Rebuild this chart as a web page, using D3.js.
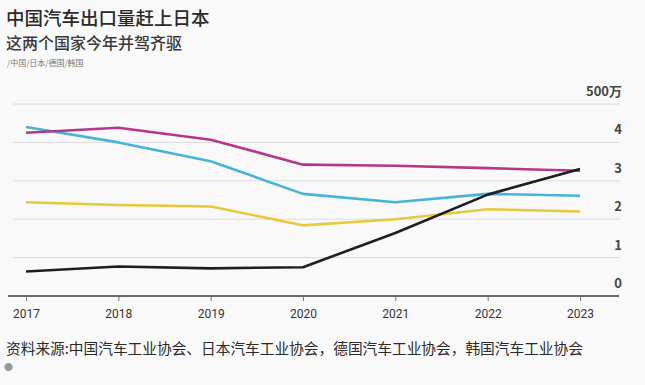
<!DOCTYPE html>
<html>
<head>
  <meta charset="utf-8">
  <title>中国汽车出口量赶上日本</title>
  <script src="https://cdn.jsdelivr.net/npm/d3@7/dist/d3.min.js"></script>
  <style>
    body { margin: 0; background: #f9f9f9; }
    text { font-family: "Noto Sans CJK SC", "Noto Sans", sans-serif; }
  </style>
</head>
<body>
<div id="container"></div>
<script>
  // years on the x axis
  var years = ["2017", "2018", "2019", "2020", "2021", "2022", "2023"];
  // exports, millions of vehicles
  var china   = [0.64, 0.77, 0.72, 0.75, 1.64, 2.64, 3.31];
  var japan   = [4.25, 4.38, 4.07, 3.42, 3.39, 3.33, 3.26];
  var germany = [4.40, 4.00, 3.51, 2.66, 2.44, 2.66, 2.61];
  var korea   = [2.44, 2.37, 2.33, 1.84, 2.00, 2.26, 2.20];
  var yTicks = [0, 1, 2, 3, 4, 5];
  var yTickLabels = ["0", "1", "2", "3", "4", "500万"];

  var series = [
    {name: "德国", values: germany, color: "#45b4d8"},
    {name: "韩国", values: korea,   color: "#e8c93c"},
    {name: "日本", values: japan,   color: "#b5378c"},
    {name: "中国", values: china,   color: "#1e1e1e"}
  ];

  var W = 645, H = 385;
  var svg = d3.select("#container").append("svg")
    .attr("width", W).attr("height", H);

  var x = d3.scalePoint().domain(years).range([26, 580]);
  var y = d3.scaleLinear().domain([0, 5]).range([296, 104]);

  // titles
  svg.append("text").attr("x", 6).attr("y", 25)
    .style("font-size", "18.5px").style("font-weight", "500").style("fill", "#2a2a2a")
    .text("中国汽车出口量赶上日本");
  svg.append("text").attr("x", 6).attr("y", 49)
    .style("font-size", "16px").style("font-weight", "500").style("fill", "#3a3a3a")
    .text("这两个国家今年并驾齐驱");
  svg.append("text").attr("x", 7).attr("y", 66)
    .style("font-size", "8px").style("fill", "#777")
    .text("/中国/日本/德国/韩国");

  // gridlines
  svg.append("g").selectAll("line")
    .data(yTicks.filter(function(d){ return d > 0; }))
    .enter().append("line")
    .attr("x1", 13).attr("x2", 620)
    .attr("y1", function(d){ return y(d); })
    .attr("y2", function(d){ return y(d); })
    .attr("stroke", "#dcdcdc").attr("stroke-width", 1);

  // y labels sit above their gridline, right side
  svg.append("g").selectAll("text")
    .data(yTicks)
    .enter().append("text")
    .attr("x", 622)
    .attr("y", function(d){ return y(d) - 8; })
    .attr("text-anchor", "end")
    .style("font-size", "13px").style("font-weight", "bold").style("fill", "#444")
    .text(function(d, i){ return yTickLabels[i]; });

  // x axis
  var xAxis = d3.axisBottom(x).tickSize(5).tickPadding(8);
  var gx = svg.append("g").attr("transform", "translate(0," + y(0) + ")").call(xAxis);
  gx.select(".domain").remove();
  gx.selectAll(".tick line").attr("stroke", "#777").attr("stroke-width", 1);
  gx.selectAll(".tick text")
    .style("font-size", "12px").style("fill", "#333")
    .style("font-family", "Roboto, 'Noto Sans', sans-serif");
  gx.append("line").attr("x1", 8).attr("x2", 619).attr("y1", 0).attr("y2", 0)
    .attr("stroke", "#6a6a6a").attr("stroke-width", 2);

  // lines
  var line = d3.line()
    .x(function(d, i){ return x(years[i]); })
    .y(function(d){ return y(d); });

  svg.append("g").selectAll("path")
    .data(series)
    .enter().append("path")
    .attr("d", function(s){ return line(s.values); })
    .attr("fill", "none")
    .attr("stroke", function(s){ return s.color; })
    .attr("stroke-width", 2.6)
    .attr("stroke-linejoin", "round");

  // source
  svg.append("text").attr("x", 6).attr("y", 354)
    .style("font-size", "14.7px").style("fill", "#2a2a2a")
    .text("资料来源:中国汽车工业协会、日本汽车工业协会，德国汽车工业协会，韩国汽车工业协会");
  svg.append("text").attr("x", 4).attr("y", 370)
    .style("font-size", "9px").style("fill", "#999")
    .text("●");
</script>
</body>
</html>
